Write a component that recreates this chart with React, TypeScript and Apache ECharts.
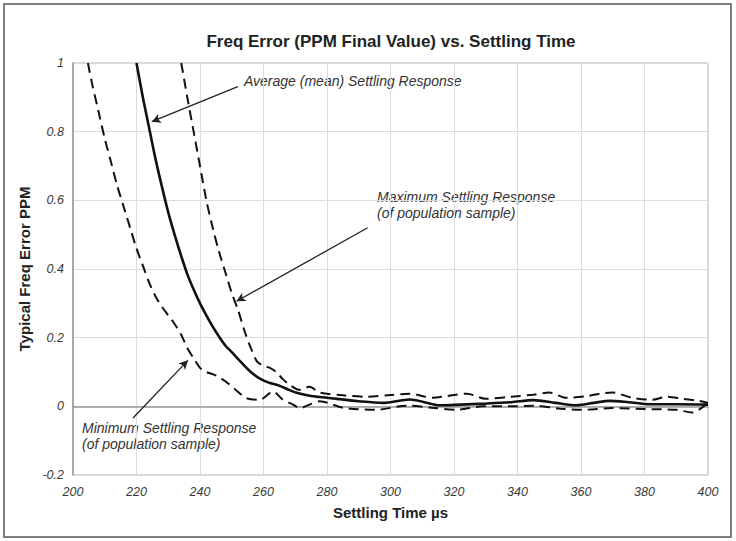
import React, { useEffect, useRef } from "react";
import * as echarts from "echarts";

const titleText = "Freq Error (PPM Final Value) vs. Settling Time";
const xAxisName = "Settling Time µs";
const yAxisName = "Typical Freq Error PPM";

const meanX = [220, 222, 224, 226, 228, 230, 232, 234, 236, 238, 240, 242, 244, 246, 248, 250, 253, 256, 259, 262, 265, 268, 271, 275, 280, 290, 297.6, 306, 316, 322, 330, 338, 345, 352, 358.6, 364, 369, 375, 381.7, 390, 400];
const meanY = [1.0, 0.9, 0.81, 0.72, 0.64, 0.565, 0.5, 0.44, 0.385, 0.34, 0.3, 0.265, 0.232, 0.203, 0.177, 0.158, 0.128, 0.1, 0.08, 0.068, 0.06, 0.048, 0.038, 0.03, 0.025, 0.015, 0.01, 0.02, 0.003, 0.005, 0.008, 0.012, 0.018, 0.01, 0.003, 0.01, 0.016, 0.012, 0.006, 0.006, 0.005];

const maxX = [234.1, 236, 238, 240, 242, 244, 246, 248, 250, 252, 254, 256, 258, 260, 262, 264, 266, 268.2, 271.4, 274.5, 277.7, 285, 292.5, 300, 306, 313.3, 318, 324, 330, 338, 345, 350, 355.4, 362, 366, 370, 376, 382.5, 387, 392, 397, 400];
const maxY = [1.0, 0.9, 0.8, 0.7, 0.6, 0.52, 0.45, 0.39, 0.33, 0.28, 0.22, 0.17, 0.13, 0.118, 0.112, 0.1, 0.08, 0.063, 0.048, 0.057, 0.04, 0.032, 0.028, 0.033, 0.037, 0.025, 0.03, 0.037, 0.022, 0.028, 0.034, 0.04, 0.025, 0.03, 0.037, 0.04, 0.025, 0.019, 0.028, 0.022, 0.016, 0.01];

const minX = [204.7, 206, 208, 210, 212, 214, 216, 218, 220, 222, 224, 226, 228, 230, 232, 234, 236, 238, 240, 242, 244, 246, 248, 251, 254.6, 258.8, 263, 266, 269.3, 271.4, 274.5, 277.7, 285, 295.6, 305, 313, 320.8, 329, 338.5, 345, 353.5, 360.5, 370, 380, 390, 395, 400];
const minY = [1.0, 0.94, 0.86, 0.78, 0.71, 0.64, 0.58, 0.52, 0.46, 0.41, 0.36, 0.32, 0.29, 0.265, 0.24, 0.21, 0.17, 0.14, 0.112, 0.1, 0.094, 0.085, 0.073, 0.05, 0.024, 0.019, 0.043, 0.02, 0.005, -0.005, 0.005, 0.015, -0.004, -0.01, 0.002, -0.004, -0.01, 0, 0, 0.002, -0.007, -0.01, -0.005, -0.008, -0.01, -0.018, 0.01];

const meanArrow = [[251.9, 0.931], [224.8, 0.829]];
const maxArrow = [[292.8, 0.52], [251.5, 0.306]];
const minArrow = [[218.9, -0.034], [236.2, 0.134]];

const meanLabel = ["Average (mean) Settling Response"];
const maxLabel = ["Maximum Settling Response", "(of population sample)"];
const minLabel = ["Minimum Settling Response", "(of population sample)"];

const pairs = (xs: number[], ys: number[]) => xs.map((x, i) => [x, ys[i]]);

const FONT = "'Liberation Sans', Arial, sans-serif";

export default function App() {
  const ref = useRef<HTMLDivElement>(null);
  useEffect(() => {
    document.body.style.margin = "0";
    const chart = echarts.init(ref.current!, null, { renderer: "svg" });
    const arrowLine = (a: number[][]) => [{ coord: a[0] }, { coord: a[1] }];
    const annText = (lines: string[], x: number, y: number) =>
      lines.map((t, i) => ({
        type: "text",
        left: x,
        top: y + i * 16,
        style: {
          text: t,
          fill: "#333",
          font: `italic 14px ${FONT}`,
        },
      }));
    chart.setOption({
      animation: false,
      backgroundColor: "#fff",
      title: {
        text: titleText,
        left: 386,
        top: 28,
        textAlign: "center",
        textStyle: { fontFamily: FONT, fontWeight: "bold", fontSize: 17, color: "#222" },
      },
      grid: {
        left: 73,
        right: 28,
        top: 63,
        bottom: 66,
        containLabel: false,
        outerBoundsMode: "none",
        show: true,
        borderColor: "#b0b0b0",
        borderWidth: 1,
      },
      xAxis: {
        type: "value",
        min: 200,
        max: 400,
        interval: 20,
        name: xAxisName,
        nameLocation: "middle",
        nameGap: 30,
        nameTextStyle: { fontFamily: FONT, fontWeight: "bold", fontSize: 15, color: "#222" },
        axisLine: { show: true, lineStyle: { color: "#999", width: 1.5 } },
        axisTick: { show: false },
        axisLabel: { fontFamily: FONT, fontStyle: "italic", fontSize: 12.5, color: "#3a3a3a", margin: 10 },
        splitLine: { show: true, lineStyle: { color: "#dcdcdc", width: 1 } },
      },
      yAxis: {
        type: "value",
        min: -0.2,
        max: 1,
        interval: 0.2,
        name: yAxisName,
        nameLocation: "middle",
        nameGap: 32,
        nameRotate: 90,
        nameTextStyle: { fontFamily: FONT, fontWeight: "bold", fontSize: 15, color: "#222" },
        axisLine: { show: true, lineStyle: { color: "#999", width: 1.5 } },
        axisTick: { show: false },
        axisLabel: { fontFamily: FONT, fontStyle: "italic", fontSize: 12.5, color: "#3a3a3a", margin: 9 },
        splitLine: { show: true, lineStyle: { color: "#dcdcdc", width: 1 } },
      },
      series: [
        {
          name: "Mean",
          type: "line",
          data: pairs(meanX, meanY),
          showSymbol: false,
          smooth: 0.3,
          lineStyle: { color: "#111", width: 2.6, type: "solid" },
          z: 3,
          markLine: {
            silent: true,
            symbol: ["none", "arrow"],
            symbolSize: [7, 9],
            label: { show: false },
            lineStyle: { color: "#222", width: 1.3, type: "solid" },
            data: [arrowLine(meanArrow), arrowLine(maxArrow), arrowLine(minArrow)],
          },
        },
        {
          name: "Maximum",
          type: "line",
          data: pairs(maxX, maxY),
          showSymbol: false,
          smooth: 0.3,
          lineStyle: { color: "#111", width: 2, type: [10, 6] },
        },
        {
          name: "Minimum",
          type: "line",
          data: pairs(minX, minY),
          showSymbol: false,
          smooth: 0.3,
          lineStyle: { color: "#111", width: 2, type: [10, 6] },
        },
      ],
      graphic: [
        {
          type: "rect",
          shape: { x: 4, y: 4, width: 727, height: 533 },
          style: { fill: "none", stroke: "#808080", lineWidth: 2 },
          silent: true,
        },
        ...annText(meanLabel, 244, 74),
        ...annText(maxLabel, 377, 190),
        ...annText(minLabel, 82, 421),
      ],
    });
    return () => chart.dispose();
  }, []);
  return <div ref={ref} style={{ width: 736, height: 541 }} />;
}
